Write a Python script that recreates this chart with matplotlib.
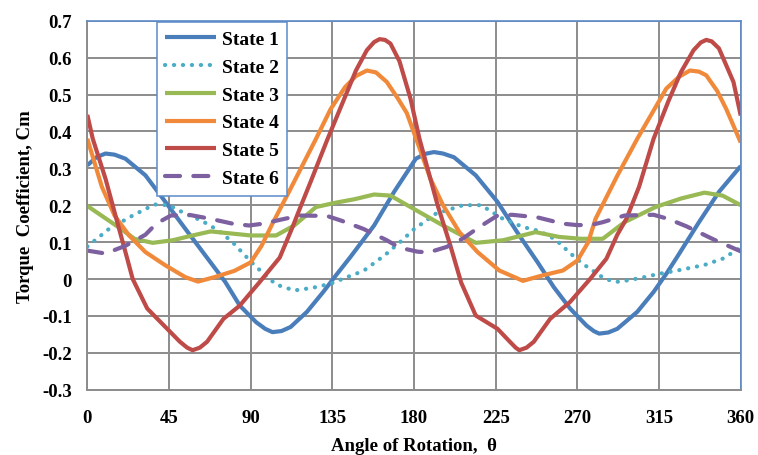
import matplotlib
matplotlib.use("Agg")
import matplotlib.pyplot as plt
from matplotlib.ticker import FuncFormatter, MultipleLocator

plt.rcParams["font.family"] = ["Liberation Serif", "DejaVu Serif"]
plt.rcParams["font.weight"] = "bold"
plt.rcParams["axes.unicode_minus"] = False

# angles (deg) and torque coefficient
angle_1 = [0, 5, 10, 15, 21, 32, 43, 54, 65, 76, 84, 93, 98, 102, 107, 112, 121,
           130, 137, 145, 158, 169, 181, 186, 191, 196, 202, 214, 226, 238, 248,
           257, 266, 275, 279, 282, 287, 292, 303, 312, 319, 325, 337, 348, 360]
state_1 = [0.308, 0.33, 0.34, 0.337, 0.326, 0.281, 0.209, 0.136, 0.064, -0.008,
           -0.072, -0.117, -0.135, -0.144, -0.141, -0.13, -0.089, -0.035, 0.01,
           0.06, 0.145, 0.236, 0.326, 0.339, 0.344, 0.34, 0.33, 0.281, 0.209,
           0.118, 0.046, -0.022, -0.08, -0.126, -0.141, -0.148, -0.145, -0.135,
           -0.089, -0.035, 0.014, 0.06, 0.154, 0.236, 0.306]

angle_2 = [0, 12, 25, 37, 45, 54, 63, 72, 80, 88, 93, 104, 114, 124, 134, 143,
           148, 153, 164, 173, 180, 192, 207, 217, 229, 240, 249, 258, 266, 273,
           285, 291, 295, 305, 315, 325, 330, 340, 350, 360]
state_2 = [0.088, 0.136, 0.172, 0.202, 0.2, 0.177, 0.158, 0.132, 0.1, 0.058,
           0.033, -0.015, -0.031, -0.024, -0.013, 0.005, 0.014, 0.025, 0.065,
           0.103, 0.135, 0.177, 0.2, 0.2, 0.163, 0.141, 0.13, 0.107, 0.07, 0.041,
           0.001, -0.008, -0.006, 0.003, 0.014, 0.023, 0.028, 0.038, 0.055, 0.085]

angle_3 = [0, 17, 26, 36, 47, 58, 68, 80, 90, 104, 114, 126, 137, 147, 158, 167,
           177, 196, 214, 229, 247, 260, 272, 284, 296, 313, 327, 340, 350, 360]
state_3 = [0.198, 0.141, 0.109, 0.098, 0.105, 0.118, 0.129, 0.123, 0.118, 0.118,
           0.145, 0.195, 0.207, 0.216, 0.229, 0.226, 0.198, 0.145, 0.098, 0.105,
           0.127, 0.114, 0.109, 0.109, 0.154, 0.195, 0.218, 0.234, 0.226, 0.2]

angle_4 = [0, 8, 15, 23, 32, 43, 54, 61, 70, 81, 90, 96, 102, 112, 126, 134, 142,
           148, 154, 159, 165, 171, 176, 183, 189, 196, 205, 215, 227, 240, 251,
           262, 270, 276, 280, 292, 303, 319, 326, 332, 337, 341, 347, 352, 360]
state_4 = [0.38, 0.25, 0.172, 0.118, 0.073, 0.037, 0.005, -0.007, 0.005, 0.022,
           0.045, 0.09, 0.15, 0.245, 0.38, 0.46, 0.52, 0.55, 0.565, 0.56, 0.534,
           0.49, 0.45, 0.355, 0.272, 0.2, 0.127, 0.073, 0.023, -0.005, 0.01,
           0.023, 0.05, 0.1, 0.163, 0.28, 0.38, 0.516, 0.548, 0.565, 0.562,
           0.552, 0.51, 0.461, 0.37]

angle_5 = [0, 3, 10, 17, 22, 25, 33, 44, 51, 55, 58, 62, 66, 75, 84, 95, 106,
           113, 117, 123, 132, 140, 148, 154, 158, 161, 164, 167, 172, 178, 183,
           187, 193, 200, 206, 214, 226, 233, 236, 238, 242, 246, 255, 266, 277,
           286, 292, 297, 304, 312, 320, 327, 334, 338, 341, 344, 348, 356, 360]
state_5 = [0.445, 0.38, 0.272, 0.145, 0.055, 0.0, -0.08, -0.135, -0.17, -0.186,
           -0.193, -0.186, -0.17, -0.108, -0.072, -0.008, 0.058, 0.14, 0.19,
           0.263, 0.375, 0.47, 0.565, 0.62, 0.642, 0.65, 0.648, 0.638, 0.59,
           0.49, 0.38, 0.308, 0.2, 0.091, -0.01, -0.099, -0.135, -0.171, -0.186,
           -0.193, -0.186, -0.17, -0.108, -0.062, 0.0, 0.055, 0.12, 0.163, 0.25,
           0.38, 0.48, 0.56, 0.62, 0.641, 0.648, 0.644, 0.625, 0.534, 0.443]

angle_6 = [0, 10, 21, 32, 38, 46, 56, 68, 80, 89, 97, 104, 117, 132, 140, 152,
           165, 172, 182, 188, 198, 207, 216, 226, 234, 248, 262, 270, 278, 284,
           296, 312, 320, 330, 346, 360]
state_6 = [0.077, 0.069, 0.09, 0.12, 0.15, 0.172, 0.174, 0.163, 0.15, 0.145,
           0.15, 0.158, 0.172, 0.171, 0.158, 0.136, 0.105, 0.085, 0.074, 0.072,
           0.087, 0.11, 0.141, 0.172, 0.174, 0.167, 0.15, 0.146, 0.147, 0.154,
           0.172, 0.174, 0.163, 0.143, 0.105, 0.075]

labels = ["State 1", "State 2", "State 3", "State 4", "State 5", "State 6"]
x_ticks = [0, 45, 90, 135, 180, 225, 270, 315, 360]

BLUE = "#4A7EBB"
TEAL = "#4BACC6"
GREEN = "#98B954"
ORANGE = "#F08A3A"
RED = "#BE4B48"
PURPLE = "#7D60A0"
GRID = "#8C8C8C"
FRAME = "#5B8BC9"

fig = plt.figure(figsize=(7.58, 4.56), dpi=100)
ax = fig.add_axes([0.1152, 0.1432, 0.8620, 0.8092])

lw = 3.0
common = dict(linewidth=lw, solid_joinstyle="round", solid_capstyle="butt")
ax.plot(angle_1, state_1, color=BLUE, label=labels[0], **common)
ax.plot(angle_2, state_2, color=TEAL, label=labels[1], linewidth=lw,
        linestyle=(0, (0.05, 2.1)), dash_capstyle="round")
ax.plot(angle_3, state_3, color=GREEN, label=labels[2], **common)
ax.plot(angle_4, state_4, color=ORANGE, label=labels[3], **common)
ax.plot(angle_5, state_5, color=RED, label=labels[4], **common)
ax.plot(angle_6, state_6, color=PURPLE, label=labels[5], linewidth=lw,
        linestyle=(0, (3.6, 3.2)), dash_capstyle="round")

ax.set_xlim(0, 360)
ax.set_ylim(-0.3, 0.7)
ax.set_xticks(x_ticks)
ax.yaxis.set_major_locator(MultipleLocator(0.1))
ax.yaxis.set_major_formatter(FuncFormatter(lambda v, p: "0" if abs(v) < 1e-9 else f"{v:.1f}"))
ax.tick_params(axis="y", length=0, labelsize=13.5, pad=11)
ax.tick_params(axis="x", length=0, labelsize=13.5, pad=14)
ax.grid(True, color=GRID, linewidth=1.4)
ax.set_axisbelow(True)

for side in ["left", "bottom"]:
    ax.spines[side].set_color(GRID)
    ax.spines[side].set_linewidth(1.4)
for side in ["top", "right"]:
    ax.spines[side].set_color(FRAME)
    ax.spines[side].set_linewidth(1.2)

ax.set_xlabel("Angle of Rotation,  \u03b8", fontsize=13.5, fontweight="bold", labelpad=8)
ax.set_ylabel("Torque  Coefficient, Cm", fontsize=13.5, fontweight="bold", labelpad=6)

leg = ax.legend(loc="upper left", bbox_to_anchor=(0.106, 0.997), fontsize=14,
                frameon=True, fancybox=False, edgecolor=FRAME, framealpha=1,
                handlelength=2.6, handletextpad=0.3, labelspacing=0.52,
                borderpad=0.45, borderaxespad=0)
leg.get_frame().set_linewidth(1.1)

fig.savefig("out.png", dpi=100)
